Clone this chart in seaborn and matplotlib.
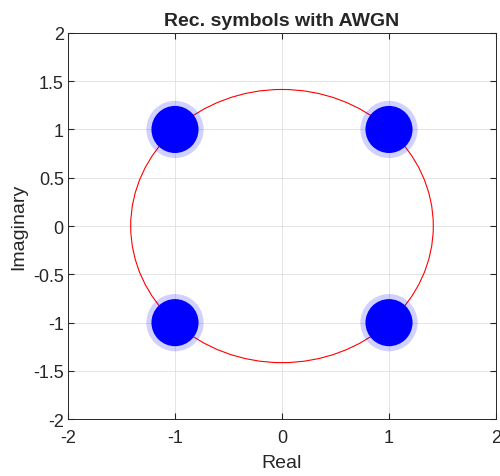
import numpy as np
import pandas as pd
import seaborn as sns
import matplotlib
matplotlib.use("Agg")
import matplotlib.pyplot as plt
from matplotlib.patches import Circle

# received QPSK symbol clusters (centres) and the reference circle
sym_real = [1, -1, -1, 1]
sym_imag = [1, 1, -1, -1]
circle_radius = 1.414
x_ticks = [-2, -1, 0, 1, 2]
y_ticks = [-2, -1.5, -1, -0.5, 0, 0.5, 1, 1.5, 2]

df = pd.DataFrame({"Real": sym_real, "Imaginary": sym_imag})

sns.set_style("white")
plt.rcParams["font.family"] = ["Liberation Sans", "DejaVu Sans"]
plt.rcParams["axes.unicode_minus"] = False

fig = plt.figure(figsize=(5, 4.77), dpi=100)
ax = fig.add_axes([0.136, 0.119, 0.856, 0.810])

ax.add_patch(Circle((0, 0), circle_radius, fill=False, color="red", lw=0.8, zorder=2))
# fuzzy halo + dense core of each cloud
sns.scatterplot(data=df, x="Real", y="Imaginary", s=1700, color="blue", alpha=0.18,
                edgecolor="none", ax=ax, zorder=3)
sns.scatterplot(data=df, x="Real", y="Imaginary", s=1150, color="blue",
                edgecolor="none", ax=ax, zorder=4)

ax.set_xlim(-2, 2)
ax.set_ylim(-2, 2)
ax.set_xticks(x_ticks)
ax.set_yticks(y_ticks)
ax.set_xticklabels([f"{v:g}" for v in x_ticks])
ax.set_yticklabels([f"{v:g}" for v in y_ticks])
ax.grid(True, color="#dfdfdf", lw=0.6)
ax.set_axisbelow(True)
ax.tick_params(direction="in", length=4, labelsize=13, colors="#262626", pad=3,
               top=True, right=True, bottom=True, left=True)
ax.tick_params(axis="x", pad=7)
for sp in ax.spines.values():
    sp.set_color("#262626")
    sp.set_linewidth(0.7)
ax.set_xlabel("Real", fontsize=14, color="#262626", labelpad=6)
ax.set_ylabel("Imaginary", fontsize=14, color="#262626", labelpad=4)
ax.set_title("Rec. symbols with AWGN", fontsize=14, fontweight="bold", pad=6)

fig.savefig("out.png", dpi=100)
